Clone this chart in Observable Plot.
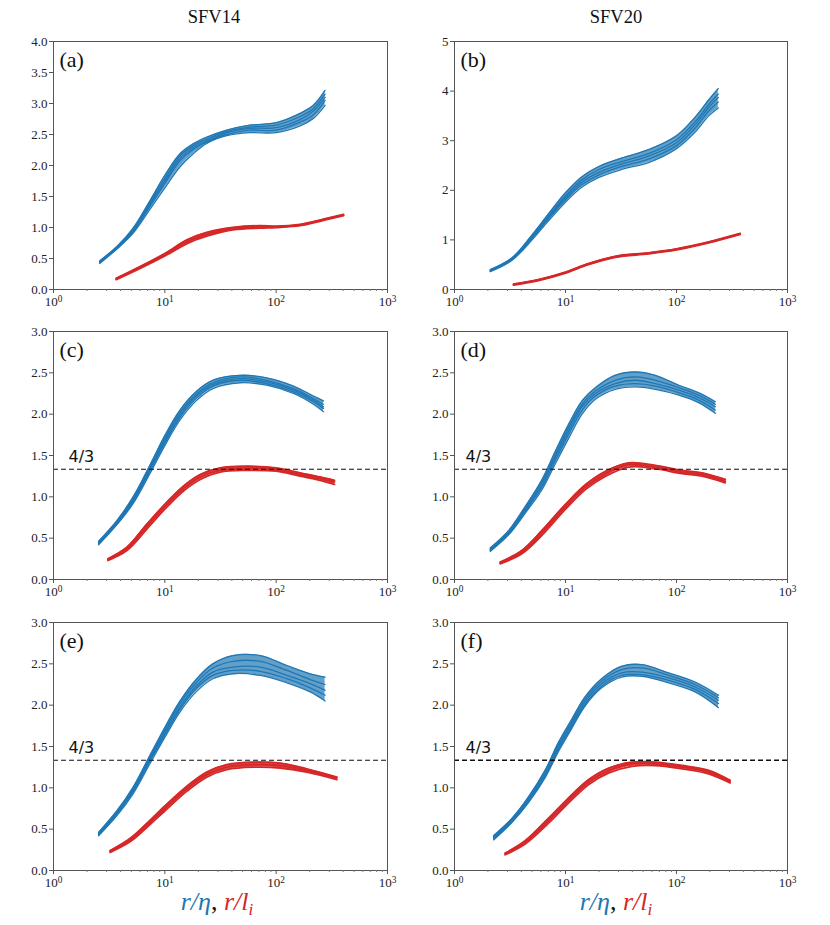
<!DOCTYPE html>
<html><head><meta charset="utf-8">
<script src="https://cdn.jsdelivr.net/npm/d3@7"></script>
<script src="https://cdn.jsdelivr.net/npm/@observablehq/plot@0.6"></script>
<style>
body{margin:0;background:#fff;}
#fig{position:relative;width:830px;height:925px;font-family:"Liberation Serif",serif;color:#111;}
.cell{position:absolute;}
.title{position:absolute;font-size:18.5px;line-height:1;transform:translateX(-50%);white-space:nowrap;}
.xlab{position:absolute;font-size:26px;line-height:1;font-style:italic;transform:translateX(-50%);white-space:nowrap;}
.xlab sub{font-size:0.66em;vertical-align:-0.3em;line-height:0;}
</style></head><body><div id="fig"></div>
<script>
const BLUE = "#1f77b4", RED = "#d62728";
const columnTitles = ["SFV14", "SFV20"];
const panelLabels = ["(a)", "(b)", "(c)", "(d)", "(e)", "(f)"];
const refLabel = "4/3";
const refValue = 4 / 3;
const xMajor = [1, 10, 100, 1000];
const xMinor = [2,3,4,5,6,7,8,9,20,30,40,50,60,70,80,90,200,300,400,500,600,700,800,900];
const yTicks4 = [0, 0.5, 1.0, 1.5, 2.0, 2.5, 3.0, 3.5, 4.0];
const yTicks5 = [0, 1, 2, 3, 4, 5];
const yTicks3 = [0, 0.5, 1.0, 1.5, 2.0, 2.5, 3.0];

// (a) SFV14
const aBlueX = [2.6, 3.8, 5.2, 7.4, 10, 13.7, 18, 24, 36, 58, 100, 164, 216, 275];
const aBlue = [
  [0.46, 0.71, 0.99, 1.44, 1.84, 2.19, 2.35, 2.46, 2.57, 2.65, 2.69, 2.84, 2.97, 3.21],
  [0.45, 0.70, 0.97, 1.41, 1.79, 2.16, 2.32, 2.43, 2.55, 2.62, 2.65, 2.79, 2.92, 3.15],
  [0.44, 0.69, 0.95, 1.38, 1.75, 2.12, 2.29, 2.40, 2.53, 2.60, 2.61, 2.74, 2.88, 3.10],
  [0.43, 0.68, 0.93, 1.35, 1.71, 2.08, 2.26, 2.38, 2.50, 2.57, 2.57, 2.70, 2.82, 3.05],
  [0.42, 0.67, 0.91, 1.30, 1.64, 1.98, 2.19, 2.36, 2.48, 2.53, 2.53, 2.64, 2.76, 2.97]
];
const aRedX = [3.66, 6.0, 10, 15.8, 23.8, 41, 71, 100, 164, 248, 403];
const aRed = [
  [0.18, 0.37, 0.58, 0.80, 0.92, 1.00, 1.03, 1.02, 1.05, 1.12, 1.21],
  [0.17, 0.35, 0.56, 0.77, 0.89, 0.98, 1.01, 1.01, 1.04, 1.11, 1.20],
  [0.16, 0.34, 0.54, 0.74, 0.86, 0.96, 0.99, 1.00, 1.03, 1.10, 1.19]
];
// (b) SFV20
const bBlueX = [2.1, 3.3, 5.0, 7.0, 10, 14, 20, 32, 56, 100, 148, 195, 238];
const bBlue = [
  [0.40, 0.64, 1.10, 1.52, 1.95, 2.27, 2.48, 2.65, 2.82, 3.10, 3.48, 3.82, 4.05],
  [0.39, 0.62, 1.07, 1.48, 1.89, 2.21, 2.42, 2.58, 2.74, 3.02, 3.39, 3.73, 3.94],
  [0.38, 0.61, 1.05, 1.45, 1.85, 2.16, 2.36, 2.53, 2.69, 2.96, 3.33, 3.67, 3.87],
  [0.37, 0.60, 1.03, 1.42, 1.81, 2.11, 2.31, 2.48, 2.63, 2.90, 3.26, 3.60, 3.78],
  [0.36, 0.59, 1.00, 1.38, 1.76, 2.06, 2.26, 2.42, 2.56, 2.84, 3.18, 3.50, 3.66]
];
const bRedX = [3.4, 5.7, 10, 16, 28, 56, 100, 195, 375];
const bRed = [
  [0.11, 0.20, 0.35, 0.52, 0.67, 0.74, 0.82, 0.96, 1.13],
  [0.10, 0.19, 0.34, 0.51, 0.66, 0.73, 0.81, 0.95, 1.12],
  [0.09, 0.18, 0.33, 0.50, 0.65, 0.72, 0.80, 0.94, 1.11]
];
// (c)
const cBlueX = [2.54, 3.7, 5.2, 7.4, 10, 13.7, 19.4, 27, 47.5, 82, 143, 216, 266];
const cBlue = [
  [0.46, 0.71, 1.00, 1.39, 1.74, 2.05, 2.28, 2.41, 2.47, 2.44, 2.34, 2.22, 2.16],
  [0.45, 0.69, 0.98, 1.36, 1.71, 2.02, 2.25, 2.38, 2.45, 2.41, 2.31, 2.19, 2.12],
  [0.44, 0.68, 0.96, 1.34, 1.68, 1.99, 2.23, 2.36, 2.43, 2.39, 2.29, 2.17, 2.09],
  [0.43, 0.67, 0.94, 1.32, 1.65, 1.96, 2.20, 2.34, 2.41, 2.37, 2.27, 2.15, 2.07],
  [0.42, 0.66, 0.92, 1.29, 1.62, 1.93, 2.17, 2.31, 2.38, 2.35, 2.25, 2.12, 2.03]
];
const cRedX = [3.08, 4.56, 6.9, 10, 14.7, 20.8, 31.4, 54.5, 100, 164, 248, 334];
const cRed = [
  [0.25, 0.39, 0.67, 0.91, 1.13, 1.27, 1.35, 1.37, 1.35, 1.29, 1.24, 1.20],
  [0.24, 0.37, 0.64, 0.88, 1.10, 1.24, 1.32, 1.345, 1.33, 1.27, 1.22, 1.18],
  [0.23, 0.35, 0.61, 0.85, 1.07, 1.21, 1.30, 1.32, 1.31, 1.25, 1.20, 1.15]
];
// (d)
const dBlueX = [2.1, 3.07, 4.33, 6.1, 8.1, 10.7, 14.1, 18.6, 28, 42.6, 64.5, 105, 158, 224];
const dBlue = [
  [0.38, 0.59, 0.88, 1.20, 1.55, 1.88, 2.16, 2.32, 2.47, 2.51, 2.47, 2.35, 2.26, 2.15],
  [0.37, 0.57, 0.86, 1.17, 1.51, 1.84, 2.12, 2.28, 2.41, 2.45, 2.41, 2.32, 2.23, 2.12],
  [0.36, 0.56, 0.84, 1.14, 1.48, 1.80, 2.09, 2.25, 2.37, 2.41, 2.37, 2.29, 2.20, 2.09],
  [0.35, 0.55, 0.82, 1.11, 1.44, 1.76, 2.05, 2.22, 2.34, 2.37, 2.34, 2.26, 2.17, 2.05],
  [0.34, 0.54, 0.80, 1.08, 1.40, 1.71, 2.00, 2.18, 2.30, 2.33, 2.30, 2.23, 2.14, 2.01]
];
const dRedX = [2.58, 4.04, 6.1, 10, 15.2, 23, 37, 64.5, 112, 170, 275];
const dRed = [
  [0.21, 0.35, 0.59, 0.91, 1.15, 1.31, 1.41, 1.38, 1.32, 1.29, 1.21],
  [0.20, 0.33, 0.56, 0.88, 1.12, 1.28, 1.39, 1.36, 1.30, 1.27, 1.19],
  [0.19, 0.31, 0.53, 0.85, 1.09, 1.25, 1.36, 1.34, 1.28, 1.25, 1.17]
];
// (e)
const eBlueX = [2.54, 3.7, 5.2, 7.4, 10, 13.7, 19.4, 27, 41, 72, 125, 202, 275];
const eBlue = [
  [0.46, 0.72, 1.01, 1.40, 1.73, 2.05, 2.32, 2.50, 2.60, 2.60, 2.48, 2.38, 2.34],
  [0.45, 0.70, 0.99, 1.37, 1.70, 2.02, 2.28, 2.45, 2.53, 2.53, 2.42, 2.31, 2.25],
  [0.44, 0.69, 0.97, 1.35, 1.67, 1.98, 2.24, 2.40, 2.46, 2.46, 2.36, 2.26, 2.18],
  [0.43, 0.68, 0.95, 1.33, 1.64, 1.95, 2.21, 2.36, 2.42, 2.41, 2.32, 2.21, 2.12],
  [0.42, 0.66, 0.93, 1.30, 1.61, 1.92, 2.17, 2.32, 2.38, 2.36, 2.27, 2.16, 2.05]
];
const eRedX = [3.23, 4.9, 7.4, 10, 15.8, 23.8, 36, 62.5, 109, 188, 351];
const eRed = [
  [0.24, 0.39, 0.61, 0.78, 1.02, 1.19, 1.28, 1.31, 1.30, 1.23, 1.13],
  [0.23, 0.37, 0.585, 0.75, 0.99, 1.16, 1.25, 1.28, 1.27, 1.21, 1.12],
  [0.22, 0.35, 0.56, 0.72, 0.96, 1.13, 1.22, 1.25, 1.24, 1.19, 1.10]
];
// (f)
const fBlueX = [2.25, 3.29, 4.64, 6.6, 8.65, 11.4, 15, 21.2, 32, 49, 85, 147, 239];
const fBlue = [
  [0.42, 0.63, 0.89, 1.22, 1.55, 1.83, 2.10, 2.32, 2.47, 2.49, 2.39, 2.28, 2.12],
  [0.41, 0.62, 0.87, 1.20, 1.52, 1.80, 2.07, 2.29, 2.43, 2.45, 2.36, 2.25, 2.09],
  [0.395, 0.605, 0.85, 1.17, 1.49, 1.77, 2.04, 2.26, 2.39, 2.40, 2.33, 2.22, 2.06],
  [0.38, 0.59, 0.83, 1.15, 1.46, 1.74, 2.01, 2.23, 2.36, 2.37, 2.30, 2.19, 2.02],
  [0.37, 0.58, 0.82, 1.13, 1.44, 1.72, 1.99, 2.21, 2.34, 2.35, 2.27, 2.16, 1.97]
];
const fRedX = [2.86, 4.33, 7.0, 10, 16.2, 24.6, 39.7, 64.5, 112, 195, 304];
const fRed = [
  [0.21, 0.36, 0.63, 0.84, 1.10, 1.24, 1.31, 1.31, 1.27, 1.21, 1.09],
  [0.20, 0.34, 0.60, 0.81, 1.07, 1.21, 1.29, 1.29, 1.25, 1.19, 1.08],
  [0.19, 0.32, 0.57, 0.78, 1.04, 1.18, 1.26, 1.27, 1.23, 1.17, 1.06]
];

const panels = [
  {blueX: aBlueX, blue: aBlue, redX: aRedX, red: aRed, yMax: 4, yTicks: yTicks4, fmt: ".1f", ref: false},
  {blueX: bBlueX, blue: bBlue, redX: bRedX, red: bRed, yMax: 5, yTicks: yTicks5, fmt: "d", ref: false},
  {blueX: cBlueX, blue: cBlue, redX: cRedX, red: cRed, yMax: 3, yTicks: yTicks3, fmt: ".1f", ref: true},
  {blueX: dBlueX, blue: dBlue, redX: dRedX, red: dRed, yMax: 3, yTicks: yTicks3, fmt: ".1f", ref: true},
  {blueX: eBlueX, blue: eBlue, redX: eRedX, red: eRed, yMax: 3, yTicks: yTicks3, fmt: ".1f", ref: true},
  {blueX: fBlueX, blue: fBlue, redX: fRedX, red: fRed, yMax: 3, yTicks: yTicks3, fmt: ".1f", ref: true}
];

const rowTops = [30, 320, 611];
const colLeft = [0, 415];
const colMargins = [{l: 53, r: 28}, {l: 39, r: 43}];
const SERIF = '"Liberation Serif", serif';

function rows(xs, curves) {
  return curves.flatMap((ys, k) => ys.map((y, i) => ({x: xs[i], y, k})));
}
function band(xs, curves) {
  return xs.map((x, i) => ({x, lo: curves[curves.length - 1][i], hi: curves[0][i]}));
}

const fig = document.getElementById("fig");
panels.forEach((p, idx) => {
  const col = idx % 2, row = Math.floor(idx / 2);
  const marks = [
    Plot.areaY(band(p.blueX, p.blue), {x: "x", y1: "lo", y2: "hi", fill: BLUE, fillOpacity: 0.7, curve: "catmull-rom"}),
    Plot.line(rows(p.blueX, p.blue), {x: "x", y: "y", z: "k", stroke: BLUE, strokeWidth: 1.3, curve: "catmull-rom"}),
    Plot.areaY(band(p.redX, p.red), {x: "x", y1: "lo", y2: "hi", fill: RED, fillOpacity: 0.85, curve: "catmull-rom"}),
    Plot.line(rows(p.redX, p.red), {x: "x", y: "y", z: "k", stroke: RED, strokeWidth: 1.8, curve: "catmull-rom"})
  ];
  if (p.ref) {
    marks.push(Plot.ruleY([refValue], {stroke: "#111", strokeDasharray: "5,3", strokeWidth: idx === 5 ? 1.5 : 1.1}));
    marks.push(Plot.text([refLabel], {frameAnchor: "left", y: () => refValue, dx: col === 0 ? 15 : 11, dy: -7,
      textAnchor: "start", lineAnchor: "bottom", fontSize: 16, fontFamily: "DejaVu Sans", fill: "#111"}));
  }
  marks.push(
    Plot.text([panelLabels[idx]], {frameAnchor: "top-left", dx: 6, dy: 10, lineAnchor: "top", textAnchor: "start", fontSize: 22, fontFamily: SERIF, fill: "#111"}),
    Plot.frame({stroke: "#555", strokeWidth: 1}),
    Plot.axisY({ticks: p.yTicks, tickFormat: p.fmt, tickSize: 4, tickPadding: 2, label: null, stroke: "#555",
      fontSize: 13, fontFamily: SERIF, fill: "#222"}),
    Plot.axisX({ticks: xMajor, tickFormat: d => "10^" + Math.round(Math.log10(d)), tickSize: 4, tickPadding: 3, label: null, stroke: "#555",
      fontSize: 13, fontFamily: SERIF, fill: "#222"}),
    Plot.axisX({ticks: xMinor, tickFormat: () => "", tickSize: 2, label: null, stroke: "#777"})
  );
  const chart = Plot.plot({
    width: 415,
    height: 280,
    marginLeft: colMargins[col].l,
    marginRight: colMargins[col].r,
    marginTop: 11,
    marginBottom: 21,
    style: {fontFamily: SERIF, fontSize: "13px", color: "#222", background: "transparent", overflow: "visible"},
    x: {type: "log", domain: [1, 1000]},
    y: {domain: [0, p.yMax]},
    marks
  });
  chart.querySelectorAll("text").forEach(t => {
    const m = /^10\^(\d)$/.exec(t.textContent);
    if (m) {
      t.textContent = "10";
      const s = document.createElementNS("http://www.w3.org/2000/svg", "tspan");
      s.setAttribute("dy", "-0.4em");
      s.setAttribute("font-size", "0.72em");
      s.textContent = m[1];
      t.appendChild(s);
    }
  });
  const cell = document.createElement("div");
  cell.className = "cell";
  cell.style.left = colLeft[col] + "px";
  cell.style.top = rowTops[row] + "px";
  cell.appendChild(chart);
  fig.appendChild(cell);
});

const titleX = [214, 616];
columnTitles.forEach((t, i) => {
  const d = document.createElement("div");
  d.className = "title";
  d.style.left = titleX[i] + "px";
  d.style.top = "8px";
  d.textContent = t;
  fig.appendChild(d);
});
[217, 616].forEach(x => {
  const d = document.createElement("div");
  d.className = "xlab";
  d.style.left = x + "px";
  d.style.top = "889px";
  d.innerHTML = '<span style="color:' + BLUE + '">r/η</span><span style="font-style:normal">, </span><span style="color:' + RED + '">r/l<sub>i</sub></span>';
  fig.appendChild(d);
});
</script></body></html>
